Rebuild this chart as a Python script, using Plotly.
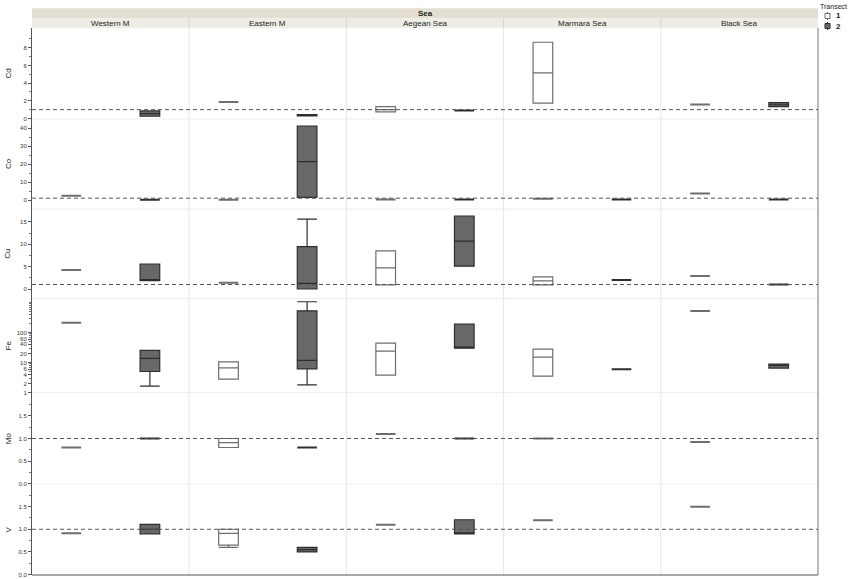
import plotly.graph_objects as go
from plotly.subplots import make_subplots

# ---------------- data ----------------
seas = ["Western M", "Eastern M", "Aegean Sea", "Marmara Sea", "Black Sea"]
elements = ["Cd", "Co", "Cu", "Fe", "Mo", "V"]
transects = ["1", "2"]

# each entry: (lowerfence, q1, median, q3, upperfence), a single value, or None (no data)
cd_t1 = [None, 1.85, (0.75, 0.75, 1.0, 1.35, 1.35), (1.73, 1.73, 5.16, 8.62, 8.62), 1.58]
cd_t2 = [(0.25, 0.25, 0.55, 0.85, 0.85), (0.3, 0.3, 0.38, 0.45, 0.45), 0.9, None, (1.35, 1.35, 1.55, 1.8, 1.8)]
co_t1 = [2.3, 0.2, 0.3, 0.7, 3.6]
co_t2 = [0.1, (1.5, 1.5, 21.3, 41.1, 41.1), 0.3, 0.3, 0.3]
cu_t1 = [4.24, 1.4, (0.9, 0.9, 4.7, 8.5, 8.5), (0.9, 0.9, 1.8, 2.7, 2.7), 2.9]
cu_t2 = [(1.86, 1.86, 1.9, 5.58, 5.58), (0.0, 0.0, 1.27, 9.45, 15.6), (5.1, 5.1, 10.7, 16.3, 16.3), 2.0, 1.0]
fe_t1 = [209, (2.78, 2.78, 6.6, 10.5, 10.5), (3.77, 3.77, 23.8, 44, 44), (3.5, 3.5, 15, 28, 28), 517]
fe_t2 = [(1.62, 5.0, 13.6, 25.1, 25.1), (1.79, 6.1, 11.7, 525, 1050), (30, 30, 32.4, 189, 189), 6.0, (6.5, 6.5, 8.0, 8.9, 8.9)]
mo_t1 = [0.80, (0.80, 0.80, 0.91, 1.0, 1.0), 1.1, 1.0, 0.92]
mo_t2 = [1.0, 0.80, 1.0, None, None]
v_t1 = [0.91, (0.6, 0.65, 0.91, 1.0, 1.0), 1.1, 1.2, 1.5]
v_t2 = [(0.9, 0.9, 1.0, 1.11, 1.11), (0.5, 0.5, 0.55, 0.6, 0.6), (0.9, 0.9, 0.9, 1.21, 1.21), None, None]

series = {
    "Cd": (cd_t1, cd_t2), "Co": (co_t1, co_t2), "Cu": (cu_t1, cu_t2),
    "Fe": (fe_t1, fe_t2), "Mo": (mo_t1, mo_t2), "V": (v_t1, v_t2),
}

reference_value = 1

cd_ticks = [0, 2, 4, 6, 8]
co_ticks = [0, 10, 20, 30, 40]
cu_ticks = [0, 5, 10, 15]
fe_ticks = [1, 2, 4, 6, 10, 20, 40, 60, 100]
mo_ticks = [0, 0.5, 1.0, 1.5]
v_ticks = [0, 0.5, 1.0, 1.5]

# ---------------- layout geometry ----------------
W, H = 850, 579
L, R, T, B = 32, 32, 28, 4
PW = W - L - R
PH = H - T - B


def px2x(px):
    return (px - L) / PW


def px2y(py):
    return (H - B - py) / PH


row_bounds = [28, 119, 209, 298.5, 392.5, 484, 575]

axis_cfg = {
    "Cd": dict(type="linear", range=[-0.06, 10.23], tickvals=cd_ticks,
               ticktext=[str(v) for v in cd_ticks], minor_vals=[1, 3, 5, 7, 9]),
    "Co": dict(type="linear", range=[-5, 45], tickvals=co_ticks,
               ticktext=[str(v) for v in co_ticks], minor_vals=[5, 15, 25, 35]),
    "Cu": dict(type="linear", range=[-2.12, 17.86], tickvals=cu_ticks,
               ticktext=[str(v) for v in cu_ticks], minor_vals=[2.5, 7.5, 12.5]),
    "Fe": dict(type="log", range=[0, 3.13], tickvals=fe_ticks,
               ticktext=[str(v) for v in fe_ticks],
               minor_vals=[3, 5, 7, 8, 9, 30, 50, 70, 80, 90, 200, 300, 400, 500, 600, 700, 800, 900, 1000]),
    "Mo": dict(type="linear", range=[-0.01, 2.02], tickvals=mo_ticks,
               ticktext=["%.1f" % v for v in mo_ticks], minor_vals=[0.25, 0.75, 1.25, 1.75]),
    "V": dict(type="linear", range=[-0.01, 2.0], tickvals=v_ticks,
              ticktext=["%.1f" % v for v in v_ticks], minor_vals=[0.25, 0.75, 1.25, 1.75]),
}

FONT = "Liberation Sans, Arial, sans-serif"
T1_FILL, T1_LINE = "#ffffff", "#6e6e6e"
T2_FILL, T2_LINE = "#686868", "#2e2e2e"

fig = make_subplots(rows=6, cols=5, horizontal_spacing=0, vertical_spacing=0)

ncol = len(seas)
for r, el in enumerate(elements):
    t1, t2 = series[el]
    for c in range(ncol):
        for ti, (vals, fill, line) in enumerate(((t1, T1_FILL, T1_LINE), (t2, T2_FILL, T2_LINE))):
            v = vals[c]
            if v is None:
                continue
            if isinstance(v, tuple):
                lo, q1, med, q3, hi = v
                lw = 1.2
            else:
                lo = q1 = med = q3 = hi = v
                lw = 2
            fig.add_trace(
                go.Box(
                    x=[transects[ti]], q1=[q1], median=[med], q3=[q3],
                    lowerfence=[lo], upperfence=[hi],
                    width=0.25, whiskerwidth=1, boxpoints=False,
                    fillcolor=fill, line=dict(color=line, width=lw),
                    showlegend=False, hoverinfo="skip",
                ),
                row=r + 1, col=c + 1,
            )

# axes
for r, el in enumerate(elements):
    cfg = axis_cfg[el]
    dom = [px2y(row_bounds[r + 1]), px2y(row_bounds[r])]
    for c in range(ncol):
        idx = r * ncol + c + 1
        xa = "xaxis" if idx == 1 else "xaxis%d" % idx
        ya = "yaxis" if idx == 1 else "yaxis%d" % idx
        fig.layout[xa].update(
            type="category", categoryorder="array", categoryarray=transects,
            range=[-0.5, 1.5], showticklabels=False, showgrid=False,
            zeroline=False, showline=False, ticks="",
            domain=[c / ncol, (c + 1) / ncol],
        )
        yrange = cfg["range"]
        common = dict(type=cfg["type"], range=yrange, domain=dom, showgrid=False, zeroline=False)
        if c == 0:
            fig.layout[ya].update(
                **common, showline=True, linecolor="#555555", linewidth=1,
                ticks="outside", ticklen=3, tickcolor="#555555", tickwidth=1,
                tickmode="array", tickvals=cfg["tickvals"], ticktext=cfg["ticktext"],
                tickfont=dict(size=6, color="#333333", family=FONT),
                minor=dict(tickmode="array", tickvals=cfg["minor_vals"], ticks="outside",
                           ticklen=2, tickcolor="#777777", tickwidth=1),
            )
        else:
            fig.layout[ya].update(**common, showline=False, ticks="", showticklabels=False)

shapes = []
annotations = []

# panel grid lines (column separators and row separators)
for c in range(1, ncol):
    xp = c / ncol
    shapes.append(dict(type="line", xref="paper", yref="paper", x0=xp, x1=xp,
                       y0=0, y1=1, line=dict(color="#e6e6e6", width=1), layer="below"))
    shapes.append(dict(type="line", xref="paper", yref="paper", x0=xp, x1=xp,
                       y0=px2y(28), y1=px2y(18), line=dict(color="#d6d4c8", width=1)))
for rb in row_bounds[1:-1]:
    shapes.append(dict(type="line", xref="paper", yref="paper", x0=0, x1=1,
                       y0=px2y(rb), y1=px2y(rb), line=dict(color="#eeeeee", width=1), layer="below"))

# reference dashed line at 1 in every row
for r, el in enumerate(elements):
    idx = r * ncol + 1
    yref = "y" if idx == 1 else "y%d" % idx
    yv = 0 if axis_cfg[el]["type"] == "log" else reference_value
    shapes.append(dict(type="line", xref="paper", yref=yref, x0=0, x1=1, y0=yv, y1=yv,
                       line=dict(color="#555555", width=1, dash="4px,3px"), layer="above"))

# bottom axis line and right border
shapes.append(dict(type="line", xref="paper", yref="paper", x0=0, x1=1, y0=0, y1=0,
                   line=dict(color="#555555", width=1)))
shapes.append(dict(type="line", xref="paper", yref="paper", x0=1, x1=1, y0=0, y1=1,
                   line=dict(color="#777777", width=1)))

# header bands
shapes.append(dict(type="rect", xref="paper", yref="paper", x0=0, x1=1,
                   y0=px2y(18.3), y1=px2y(8.3), fillcolor="#e2dfd1", line=dict(width=0), layer="below"))
shapes.append(dict(type="rect", xref="paper", yref="paper", x0=0, x1=1,
                   y0=px2y(28.3), y1=px2y(18.3), fillcolor="#eeede5", line=dict(width=0), layer="below"))
annotations.append(dict(text="<b>Sea</b>", xref="paper", yref="paper", x=0.5, y=px2y(13.3),
                        showarrow=False, font=dict(size=8, color="#222222", family=FONT),
                        xanchor="center", yanchor="middle"))
for c, s in enumerate(seas):
    annotations.append(dict(text=s, xref="paper", yref="paper", x=(c + 0.5) / ncol, y=px2y(23.3),
                            showarrow=False, font=dict(size=8, color="#222222", family=FONT),
                            xanchor="center", yanchor="middle"))

# row labels
for r, el in enumerate(elements):
    yc = (row_bounds[r] + row_bounds[r + 1]) / 2
    annotations.append(dict(text=el, xref="paper", yref="paper", x=px2x(8), y=px2y(yc),
                            showarrow=False, textangle=-90,
                            font=dict(size=8, color="#222222", family=FONT),
                            xanchor="center", yanchor="middle"))

# legend (drawn manually to fit in the right margin)
annotations.append(dict(text="Transect", xref="paper", yref="paper", x=px2x(819), y=px2y(6.5),
                        showarrow=False, font=dict(size=7, color="#222222", family=FONT),
                        xanchor="left", yanchor="middle", borderpad=0))
for i, (t, fill, line) in enumerate(((transects[0], T1_FILL, T1_LINE), (transects[1], T2_FILL, T2_LINE))):
    yc = 16 + i * 10
    shapes.append(dict(type="line", xref="paper", yref="paper", x0=px2x(827.5), x1=px2x(827.5),
                       y0=px2y(yc - 4), y1=px2y(yc + 4), line=dict(color=line, width=1)))
    shapes.append(dict(type="rect", xref="paper", yref="paper", x0=px2x(825), x1=px2x(830),
                       y0=px2y(yc + 2.5), y1=px2y(yc - 2.5), fillcolor=fill,
                       line=dict(color=line, width=1)))
    annotations.append(dict(text="<b>%s</b>" % t, xref="paper", yref="paper", x=px2x(834), y=px2y(yc),
                            showarrow=False, font=dict(size=8, color="#222222", family=FONT),
                            xanchor="left", yanchor="middle"))

fig.update_layout(
    width=W, height=H,
    margin=dict(l=L, r=R, t=T, b=B, autoexpand=False),
    paper_bgcolor="white", plot_bgcolor="white",
    boxmode="overlay", showlegend=False,
    shapes=shapes, annotations=annotations,
    font=dict(family=FONT),
)

fig.write_html(
    "out.html",
    config={"displayModeBar": False, "staticPlot": True},
    post_script="document.body.style.margin='0px';document.body.style.padding='0px';",
)
